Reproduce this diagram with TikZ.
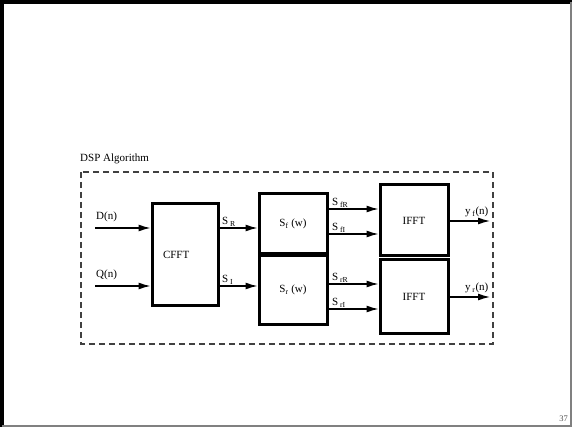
\documentclass[tikz,border=0pt]{standalone}
\usepackage{fontspec}
\setmainfont{Liberation Serif}
\usetikzlibrary{arrows.meta}

\begin{document}
\begin{tikzpicture}[x=1pt, y=-1pt,
    every node/.style={font=\fontsize{11}{13}\selectfont},
    block/.style={draw, line width=3pt, minimum width=68pt},
    sig/.style={line width=1.3pt, -{Latex[length=12pt,width=7pt]}},
    lbl/.style={anchor=south west, inner sep=1pt}]
    \useasboundingbox (0,0) rectangle (572,427);

    % Slide frame
    \draw[line width=4pt] (2,427) -- (2,2) -- (572,2);
    \draw[gray, line width=1.2pt] (571,2) -- (571,426) -- (2,426);
    \node[gray!60!black, font=\fontsize{8.5}{9}\selectfont, anchor=base east, inner sep=0pt] (pagenum) at (568,421) {37};

    % Dashed outline of the algorithm
    \node[anchor=base west, inner sep=0pt] (title) at (80,162) {DSP Algorithm};
    \draw[gray!50!black, line width=1.1pt, dash pattern=on 6pt off 4pt] (81,172) rectangle (493,344);

    % Blocks
    \node[block, minimum width=66pt, minimum height=101pt, text width=44pt, align=left] (cfft) at (185,254.5) {CFFT};
    \node[block, minimum height=60pt] (sf) at (293,224) {S\textsubscript{f} (w)};
    \node[block, minimum height=68pt] (sr) at (293,290) {S\textsubscript{r} (w)};
    \node[block, minimum height=71pt] (ifftf) at (414,220.5) {IFFT};
    \node[block, minimum height=73pt] (ifftr) at (414,296.5) {IFFT};

    % Inputs
    \coordinate (dIn) at (95,228);
    \coordinate (qIn) at (95,286);
    \draw[sig] (dIn) -- (dIn -| cfft.west);
    \draw[sig] (qIn) -- (qIn -| cfft.west);
    \node[lbl, yshift=5pt] (dlbl) at (dIn) {D(n)};
    \node[lbl, yshift=5pt] (qlbl) at (qIn) {Q(n)};

    % CFFT outputs
    \draw[sig] (dIn -| cfft.east) -- (dIn -| sf.west) node[lbl, pos=0, xshift=1pt] (srlbl) {S\,\textsubscript{R}};
    \draw[sig] (qIn -| cfft.east) -- (qIn -| sr.west) node[lbl, pos=0, xshift=1pt] (silbl) {S\,\textsubscript{I}};

    % Filter outputs
    \draw[sig] ([yshift=15pt]sf.east) -- ([yshift=15pt]sf.east -| ifftf.west) node[lbl, pos=0, xshift=2pt] (sfrlbl) {S\,\textsubscript{fR}};
    \draw[sig] ([yshift=-10pt]sf.east) -- ([yshift=-10pt]sf.east -| ifftf.west) node[lbl, pos=0, xshift=2pt] (sfilbl) {S\,\textsubscript{fI}};
    \draw[sig] ([yshift=6pt]sr.east) -- ([yshift=6pt]sr.east -| ifftr.west) node[lbl, pos=0, xshift=2pt] (srrlbl) {S\,\textsubscript{rR}};
    \draw[sig] ([yshift=-19pt]sr.east) -- ([yshift=-19pt]sr.east -| ifftr.west) node[lbl, pos=0, xshift=2pt] (srilbl) {S\,\textsubscript{rI}};

    % Outputs
    \coordinate (yfOut) at (490,221);
    \coordinate (yrOut) at (490,297);
    \draw[sig] (yfOut -| ifftf.east) -- (yfOut) node[anchor=south east, inner sep=1pt, pos=1, yshift=2pt] (yflbl) {y\,\textsubscript{f}(n)};
    \draw[sig] (yrOut -| ifftr.east) -- (yrOut) node[anchor=south east, inner sep=1pt, pos=1, yshift=2pt] (yrlbl) {y\,\textsubscript{r}(n)};
\end{tikzpicture}
\end{document}
